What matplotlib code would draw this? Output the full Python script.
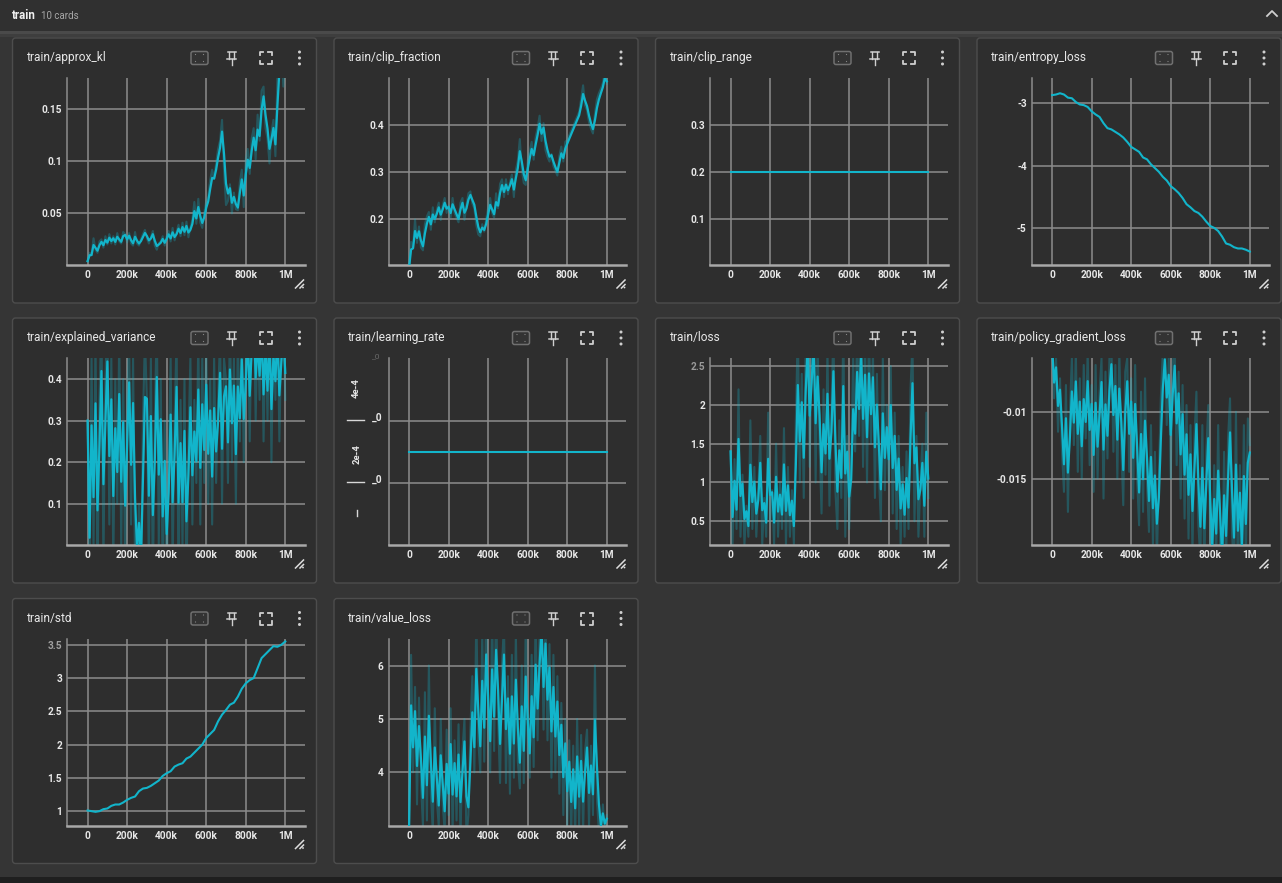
import numpy as np
import matplotlib
matplotlib.use("Agg")
import matplotlib.pyplot as plt
from matplotlib.patches import FancyBboxPatch, Rectangle, Circle

plt.rcParams['font.family'] = ['Roboto', 'DejaVu Sans']

# ---------------- data ----------------
STEP_10K = np.arange(101) * 10_000
STEP_20K = np.arange(51) * 20_000
SMOOTHING = 0.42

approx_kl = [0.004, 0.012, 0.010, 0.026, 0.015, 0.012, 0.023, 0.025, 0.017, 0.028,
             0.020, 0.030, 0.021, 0.028, 0.020, 0.031, 0.023, 0.021, 0.032, 0.030,
             0.022, 0.031, 0.021, 0.019, 0.032, 0.021, 0.019, 0.025, 0.030, 0.034,
             0.026, 0.021, 0.027, 0.033, 0.019, 0.015, 0.021, 0.023, 0.028, 0.019,
             0.028, 0.033, 0.023, 0.036, 0.024, 0.032, 0.039, 0.028, 0.041, 0.029,
             0.042, 0.027, 0.036, 0.044, 0.061, 0.040, 0.064, 0.041, 0.036, 0.050,
             0.062, 0.066, 0.082, 0.092, 0.083, 0.098, 0.112, 0.120, 0.140, 0.092,
             0.058, 0.062, 0.078, 0.050, 0.070, 0.054, 0.053, 0.080, 0.092, 0.056,
             0.102, 0.112, 0.088, 0.122, 0.132, 0.102, 0.145, 0.120, 0.168, 0.172,
             0.132, 0.122, 0.098, 0.128, 0.140, 0.105, 0.180, 0.210, 0.215, 0.172, 0.198]

clip_fraction = [0.095, 0.150, 0.138, 0.198, 0.148, 0.183, 0.138, 0.132, 0.188, 0.204,
                 0.214, 0.176, 0.224, 0.192, 0.218, 0.234, 0.197, 0.228, 0.244, 0.212,
                 0.228, 0.202, 0.244, 0.212, 0.202, 0.192, 0.234, 0.244, 0.197, 0.228,
                 0.254, 0.258, 0.232, 0.222, 0.186, 0.166, 0.162, 0.188, 0.172, 0.198,
                 0.224, 0.244, 0.212, 0.202, 0.254, 0.222, 0.274, 0.284, 0.246, 0.284,
                 0.252, 0.278, 0.294, 0.246, 0.304, 0.324, 0.370, 0.306, 0.276, 0.272,
                 0.324, 0.344, 0.364, 0.326, 0.374, 0.394, 0.420, 0.366, 0.404, 0.346,
                 0.332, 0.322, 0.338, 0.312, 0.302, 0.292, 0.334, 0.354, 0.322, 0.364,
                 0.368, 0.378, 0.388, 0.398, 0.408, 0.418, 0.428, 0.455, 0.485, 0.442,
                 0.432, 0.406, 0.392, 0.382, 0.424, 0.455, 0.468, 0.478, 0.490, 0.515, 0.488]

clip_range = [0.2] * 51

entropy_loss = [-2.87, -2.86, -2.84, -2.86, -2.91, -2.92, -2.98, -3.02, -3.03, -3.06,
                -3.13, -3.18, -3.22, -3.32, -3.40, -3.42, -3.46, -3.50, -3.55, -3.62,
                -3.70, -3.74, -3.78, -3.87, -3.90, -3.98, -4.04, -4.10, -4.18, -4.24,
                -4.33, -4.38, -4.44, -4.52, -4.62, -4.67, -4.73, -4.76, -4.82, -4.90,
                -4.97, -5.00, -5.05, -5.14, -5.25, -5.27, -5.31, -5.33, -5.33, -5.35, -5.38]

explained_variance = [0.30, -0.10, 0.45, 0.00, 0.50, -0.10, 0.35, 0.55, -0.05, 0.40,
                      0.55, 0.05, 0.45, -0.05, 0.40, 0.10, 0.50, 0.00, 0.40, -0.05,
                      0.35, 0.50, 0.05, 0.45, -0.05, -0.10, 0.10, -0.10, 0.30, 0.50,
                      0.35, -0.05, 0.45, -0.10, 0.30, 0.55, 0.00, 0.40, -0.10, 0.30,
                      -0.10, 0.20, 0.45, -0.05, 0.30, 0.50, -0.10, 0.35, 0.00, 0.40,
                      -0.10, 0.25, 0.45, 0.05, 0.35, 0.15, 0.50, 0.05, 0.45, 0.15,
                      0.50, 0.10, 0.40, 0.05, 0.45, 0.15, 0.35, 0.50, 0.10, 0.45,
                      0.40, 0.15, 0.55, 0.20, 0.45, 0.10, 0.50, 0.25, 0.55, 0.20,
                      0.45, 0.60, 0.25, 0.55, 0.60, 0.30, 0.55, 0.35, 0.60, 0.25,
                      0.55, 0.30, 0.60, 0.20, 0.55, 0.35, 0.60, 0.25, 0.50, 0.55, 0.35]

learning_rate = [3e-4] * 51

loss = [1.4, 0.2, 1.3, 0.4, 2.2, 0.3, 1.1, 0.2, 0.7, 0.3,
        1.8, 0.4, 1.2, 0.3, 0.9, 1.6, 0.2, 0.8, 0.3, 1.9,
        0.5, 0.9, 0.2, 1.5, 0.3, 1.0, 0.4, 1.7, 0.2, 1.2,
        0.3, 0.9, 0.2, 1.8, 3.0, 1.0, 2.4, 0.8, 2.8, 3.2,
        1.2, 2.6, 3.2, 1.0, 2.8, 1.5, 0.6, 2.2, 1.1, 2.7,
        0.7, 1.9, 3.0, 0.9, 0.4, 1.8, 0.8, 3.1, 0.3, 1.6,
        0.4, 1.2, 2.6, 1.4, 3.0, 1.6, 3.2, 1.2, 2.8, 1.0,
        3.0, 1.5, 2.7, 0.8, 2.4, 1.1, 0.5, 2.6, 0.9, 2.0,
        1.0, 2.5, 0.6, 1.9, 0.4, 1.6, 0.2, 1.2, 0.3, 1.4,
        0.4, 2.2, 2.8, 0.5, 1.6, 0.3, 1.0, 1.5, 0.3, 1.9, 0.8]

policy_gradient_loss = [-0.0050, -0.0090, -0.0060, -0.0115, -0.0075, -0.0130, -0.0160, -0.0080, -0.0175, -0.0100,
                        -0.0060, -0.0125, -0.0055, -0.0145, -0.0075, -0.0150, -0.0065, -0.0120, -0.0055, -0.0140,
                        -0.0080, -0.0160, -0.0065, -0.0150, -0.0085, -0.0060, -0.0165, -0.0070, -0.0135, -0.0060,
                        -0.0050, -0.0130, -0.0065, -0.0150, -0.0055, -0.0125, -0.0170, -0.0070, -0.0060, -0.0145,
                        -0.0075, -0.0165, -0.0065, -0.0150, -0.0185, -0.0085, -0.0175, -0.0075, -0.0155, -0.0190,
                        -0.0110, -0.0200, -0.0130, -0.0210, -0.0150, -0.0090, -0.0055, -0.0045, -0.0110, -0.0060,
                        -0.0150, -0.0065, -0.0050, -0.0140, -0.0070, -0.0165, -0.0080, -0.0180, -0.0095, -0.0195,
                        -0.0110, -0.0205, -0.0120, -0.0085, -0.0185, -0.0210, -0.0110, -0.0220, -0.0130, -0.0095,
                        -0.0200, -0.0225, -0.0140, -0.0210, -0.0110, -0.0200, -0.0230, -0.0130, -0.0215, -0.0120,
                        -0.0090, -0.0190, -0.0220, -0.0100, -0.0225, -0.0140, -0.0230, -0.0110, -0.0210, -0.0105, -0.0125]

std = [1.01, 1.00, 0.99, 1.00, 1.03, 1.04, 1.08, 1.10, 1.10, 1.13,
       1.17, 1.20, 1.22, 1.30, 1.34, 1.35, 1.38, 1.42, 1.46, 1.53,
       1.57, 1.60, 1.67, 1.70, 1.72, 1.79, 1.82, 1.88, 1.94, 2.00,
       2.10, 2.16, 2.22, 2.35, 2.45, 2.52, 2.60, 2.63, 2.72, 2.84,
       2.92, 2.97, 3.00, 3.15, 3.30, 3.36, 3.42, 3.48, 3.47, 3.50, 3.55]

value_loss = [3.0, 6.2, 4.0, 5.6, 3.4, 5.4, 3.8, 3.0, 5.5, 3.1,
              6.0, 3.6, 2.9, 5.2, 3.5, 3.0, 5.0, 3.4, 2.9, 4.8,
              3.2, 5.2, 2.9, 4.6, 3.1, 4.9, 2.8, 4.4, 5.0, 2.8,
              3.2, 4.8, 5.8, 4.0, 7.0, 4.6, 4.0, 6.6, 4.2, 7.2,
              4.8, 4.0, 6.9, 4.4, 7.2, 5.0, 3.8, 6.0, 6.8, 3.8,
              5.8, 3.6, 6.2, 3.9, 6.6, 4.2, 3.7, 6.0, 3.8, 6.8,
              4.4, 3.9, 6.2, 4.1, 7.0, 4.6, 6.6, 7.2, 4.8, 7.0,
              4.6, 6.4, 3.9, 6.2, 4.0, 5.8, 3.6, 5.3, 3.2, 5.0,
              3.0, 4.6, 2.9, 4.5, 2.8, 5.0, 3.0, 4.7, 2.9, 4.4,
              4.8, 3.0, 4.5, 3.2, 6.0, 3.5, 2.9, 2.7, 3.4, 2.9, 3.2]

X_TICKS = [0, 200_000, 400_000, 600_000, 800_000, 1_000_000]
X_LABELS = ["0", "200k", "400k", "600k", "800k", "1M"]

# title, steps, values, ylim, yticks, ylabels, show raw
CARDS = [
    ("train/approx_kl", STEP_10K, approx_kl, (0, 0.18), [0.05, 0.1, 0.15], ["0.05", "0.1", "0.15"], True),
    ("train/clip_fraction", STEP_10K, clip_fraction, (0.1, 0.5), [0.2, 0.3, 0.4], ["0.2", "0.3", "0.4"], True),
    ("train/clip_range", STEP_20K, clip_range, (0, 0.4), [0.1, 0.2, 0.3], ["0.1", "0.2", "0.3"], False),
    ("train/entropy_loss", STEP_20K, entropy_loss, (-5.6, -2.6), [-5, -4, -3], ["-5", "-4", "-3"], False),
    ("train/explained_variance", STEP_10K, explained_variance, (0, 0.45), [0.1, 0.2, 0.3, 0.4], ["0.1", "0.2", "0.3", "0.4"], True),
    ("train/learning_rate", STEP_20K, learning_rate, (0, 6e-4), [2e-4, 4e-4], ["", ""], False),
    ("train/loss", STEP_10K, loss, (0.19, 2.6), [0.5, 1, 1.5, 2, 2.5], ["0.5", "1", "1.5", "2", "2.5"], True),
    ("train/policy_gradient_loss", STEP_10K, policy_gradient_loss, (-0.0200, -0.0060), [-0.015, -0.01], ["-0.015", "-0.01"], True),
    ("train/std", STEP_20K, std, (0.78, 3.59), [1, 1.5, 2, 2.5, 3, 3.5], ["1", "1.5", "2", "2.5", "3", "3.5"], False),
    ("train/value_loss", STEP_10K, value_loss, (3.0, 6.5), [4, 5, 6], ["4", "5", "6"], True),
]


def ema(values, w):
    out, last = [], 0.0
    for i, v in enumerate(values, start=1):
        last = last * w + (1 - w) * v
        out.append(last / (1 - w ** i))
    return out


# ---------------- styling ----------------
W, H = 1282, 883
PAGE_BG = "#353535"
HEADER_BG = "#303030"
CARD_BG = "#2e2e2e"
CARD_EDGE = "#4d4d4d"
GRID = "#8c8c8c"
LINE = "#12b5cb"
TEXT = "#e8e8e8"
ICON = "#cfcfcf"

CARD_LEFT = [12.5, 334, 655.5, 977]
CARD_TOP = [38, 318, 598.5]
CARD_W, CARD_H = 304, 265
AX_DX, AX_DY, AX_W, AX_H = 54.5, 40.3, 237.5, 187
X0_OFF, PX_PER_M = 20.6, 197.7
XMIN = -X0_OFF / PX_PER_M * 1e6
XMAX = (AX_W - X0_OFF) / PX_PER_M * 1e6

fig = plt.figure(figsize=(W / 100, H / 100), dpi=100)
fig.patch.set_facecolor(PAGE_BG)
bg = fig.add_axes([0, 0, 1, 1])
bg.set_xlim(0, W)
bg.set_ylim(H, 0)
bg.axis("off")

# header
bg.add_patch(Rectangle((0, 0), W, 31, color=HEADER_BG, lw=0))
bg.add_patch(Rectangle((0, 31), W, 3, color="#4a4a4a", lw=0))
bg.add_patch(Rectangle((0, 34), W, 3, color="#3e3e3e", lw=0))
bg.add_patch(Rectangle((0, 877), W, 6, color="#1f1f1f", lw=0))
bg.text(12, 15.5, "train", color="#f0f0f0", fontsize=8.3, fontweight="bold", va="center", ha="left")
bg.text(41, 16, "10 cards", color="#a8a8a8", fontsize=7, va="center", ha="left")
bg.plot([1267, 1272, 1277], [16, 11, 16], color="#d0d0d0", lw=1.3)


def draw_icons(x0, y0):
    cy = y0 + 20
    # fit-domain icon
    bg.add_patch(FancyBboxPatch((x0 + 178.5, cy - 6.5), 17, 13,
                                boxstyle="round,pad=0,rounding_size=2",
                                fc="#333333", ec="#707070", lw=1.1))
    for dx, dy in [(183, -3.5), (191, -3.5), (183, 3.5), (191, 3.5)]:
        bg.add_patch(Circle((x0 + dx, cy + dy), 0.6, color="#8a8a8a", lw=0))
    # pin
    cx = x0 + 219
    bg.plot([cx - 4, cx + 4], [cy - 6, cy - 6], color=ICON, lw=1.1)
    bg.plot([cx - 2.3, cx - 2.3], [cy - 6, cy + 0.5], color=ICON, lw=1.0)
    bg.plot([cx + 2.3, cx + 2.3], [cy - 6, cy + 0.5], color=ICON, lw=1.0)
    bg.plot([cx - 4.5, cx + 4.5], [cy + 0.8, cy + 0.8], color=ICON, lw=1.1)
    bg.plot([cx, cx], [cy + 0.8, cy + 6.5], color=ICON, lw=1.0)
    # fullscreen
    cx = x0 + 253
    s, L = 6, 3.2
    for sx in (-1, 1):
        for sy in (-1, 1):
            bg.plot([cx + sx * s, cx + sx * s, cx + sx * (s - L)],
                    [cy + sy * (s - L), cy + sy * s, cy + sy * s], color=ICON, lw=1.3)
    # menu dots
    cx = x0 + 287
    for dy in (-6, 0, 6):
        bg.add_patch(Circle((cx, cy + dy), 1.5, color=ICON, lw=0))
    # resize handle bottom right
    rx, ry = x0 + 287, y0 + 246
    bg.plot([rx - 4, rx + 4], [ry + 4, ry - 4], color="#dddddd", lw=1.1)
    bg.plot([rx + 0.5, rx + 4], [ry + 4, ry + 0.5], color="#dddddd", lw=1.1)
    bg.add_patch(Circle((rx + 3.5, ry + 3.5), 0.9, color="#dddddd", lw=0))


for i, (title, steps, values, ylim, yticks, ylabels, show_raw) in enumerate(CARDS):
    row, col = divmod(i, 4)
    x0, y0 = CARD_LEFT[col], CARD_TOP[row]
    bg.add_patch(FancyBboxPatch((x0, y0), CARD_W, CARD_H,
                                boxstyle="round,pad=0,rounding_size=3",
                                fc=CARD_BG, ec=CARD_EDGE, lw=1.0))
    bg.text(x0 + 14, y0 + 20, title, color=TEXT, fontsize=8.6, va="center", ha="left")
    draw_icons(x0, y0)

    ax = fig.add_axes([(x0 + AX_DX) / W, 1 - (y0 + AX_DY + AX_H) / H, AX_W / W, AX_H / H])
    ax.set_facecolor("none")
    ax.set_xlim(XMIN, XMAX)
    ax.set_ylim(*ylim)
    ax.set_xticks(X_TICKS)
    ax.set_xticklabels(X_LABELS)
    ax.set_yticks(yticks)
    ax.set_yticklabels(ylabels)
    ax.grid(True, color=GRID, lw=1.1)
    ax.set_axisbelow(True)
    for side in ("top", "right"):
        ax.spines[side].set_visible(False)
    ax.spines["left"].set_color("#8c8c8c")
    ax.spines["left"].set_linewidth(1.1)
    ax.spines["bottom"].set_color("#a8a8a8")
    ax.spines["bottom"].set_linewidth(1.8)
    ax.tick_params(length=0, pad=3.5, labelsize=7.3, labelcolor=TEXT)
    for lab in ax.get_xticklabels() + ax.get_yticklabels():
        lab.set_fontweight("bold")
    if title == "train/loss":
        ax.get_yticklabels()[-1].set_color("#9a9a9a")
    if title == "train/std":
        ax.get_yticklabels()[-1].set_color("#a0a0a0")

    if show_raw:
        ax.plot(steps, values, color=LINE, alpha=0.3, lw=1.5, zorder=2)
        ax.plot(steps, ema(values, SMOOTHING), color=LINE, lw=1.6, zorder=3)
    else:
        ax.plot(steps, values, color=LINE, lw=1.5, zorder=3)

    if title == "train/learning_rate":
        for gy in (420.3, 482.3):
            bg.plot([x0 + 13, x0 + 30], [gy, gy], color="#d8d8d8", lw=1.0)
            bg.text(x0 + 37.5, gy - 3, "_0", color=TEXT, fontsize=7.3, fontweight="bold",
                    ha="left", va="center")
        bg.text(x0 + 37.5, 356, "_0", color="#6a6a6a", fontsize=6, ha="left", va="center")
        bg.text(x0 + 22, 388, "4e-4", color=TEXT, fontsize=6.8, fontweight="bold",
                rotation=90, ha="center", va="center")
        bg.text(x0 + 22.7, 454, "2e-4", color=TEXT, fontsize=6.8, fontweight="bold",
                rotation=90, ha="center", va="center")
        bg.plot([x0 + 22.7, x0 + 22.7], [510, 516], color="#d8d8d8", lw=1.0)

fig.savefig("out.png", dpi=100, facecolor=fig.get_facecolor())
